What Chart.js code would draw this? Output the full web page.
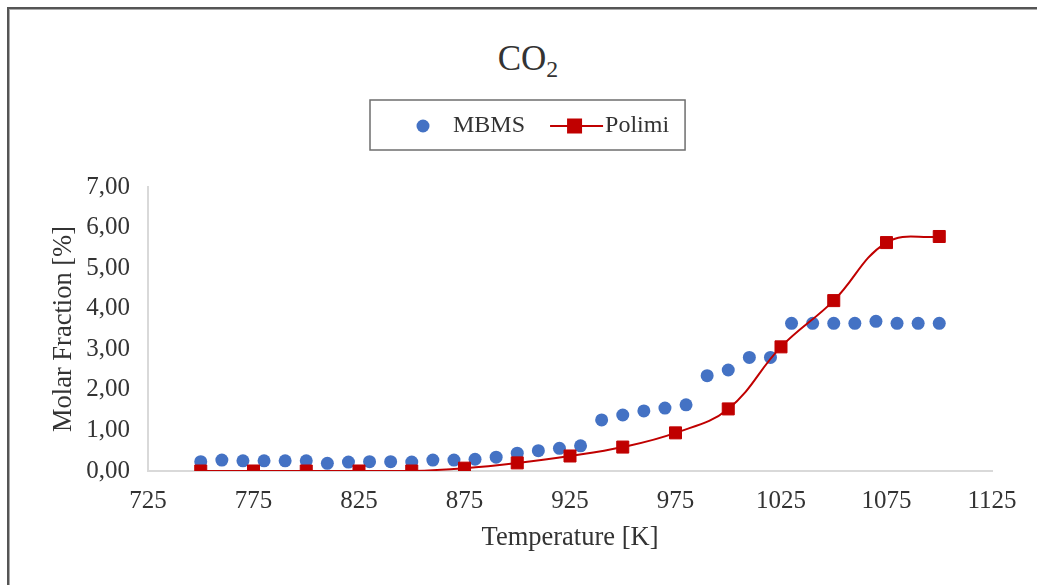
<!DOCTYPE html>
<html>
<head>
<meta charset="utf-8">
<script src="https://cdn.jsdelivr.net/npm/chart.js@4.4.1/dist/chart.umd.min.js"></script>
<style>
  html, body { margin: 0; padding: 0; background: #fff; }
  #wrap { position: relative; width: 1037px; height: 585px; overflow: hidden; background: #fff; }
  #frame { position: absolute; left: 7px; top: 7px; width: 1100px; height: 700px;
    border-top: 2px solid #555; border-left: 2px solid #555; box-shadow: inset 1px 1px 0 #aaa; }
  #title { position: absolute; left: 0; width: 1056px; top: 42px; text-align: center;
    font-family: 'Liberation Serif', 'Times New Roman', serif; font-size: 35px; line-height: 34px; color: #333; }
  #title span { font-size: 0.68em; position: relative; top: 7px; }
  canvas { position: absolute; left: 0; top: 0; }
</style>
</head>
<body>
<div id="wrap">
  <div id="frame"></div>
  <div id="title">CO<span>2</span></div>
  <canvas id="chart" width="1037" height="585"></canvas>
</div>
<script>
const mbmsTemps = [750, 760, 770, 780, 790, 800, 810, 820, 830, 840, 850, 860, 870, 880, 890, 900, 910, 920,
  930, 940, 950, 960, 970, 980, 990, 1000, 1010, 1020, 1030, 1040, 1050, 1060, 1070, 1080, 1090, 1100];
const mbmsValues = [0.23, 0.27, 0.25, 0.25, 0.25, 0.25, 0.19, 0.22, 0.23, 0.23, 0.22, 0.27, 0.27, 0.29, 0.34, 0.44, 0.50, 0.56,
  0.62, 1.26, 1.38, 1.48, 1.55, 1.63, 2.35, 2.49, 2.80, 2.80, 3.64, 3.64, 3.64, 3.64, 3.69, 3.64, 3.64, 3.64];
const polimiTemps = [750, 775, 800, 825, 850, 875, 900, 925, 950, 975, 1000, 1025, 1050, 1075, 1100];
const polimiValues = [0.00, 0.00, 0.00, 0.00, 0.00, 0.07, 0.20, 0.37, 0.59, 0.94, 1.53, 3.06, 4.20, 5.63, 5.78];
const xTicks = [725, 775, 825, 875, 925, 975, 1025, 1075, 1125];
const yTicks = [0, 1, 2, 3, 4, 5, 6, 7];

const blue = '#4472C4';
const red = '#C00000';
const textColor = '#333';
const axisColor = '#d9d9d9';
const serif = "'Liberation Serif', 'Times New Roman', serif";

Chart.defaults.font.family = serif;

// legend icons
function dotIcon() {
  const c = document.createElement('canvas');
  c.width = 58; c.height = 20;
  const g = c.getContext('2d');
  g.fillStyle = blue;
  g.beginPath();
  g.arc(40, 10, 6.5, 0, Math.PI * 2);
  g.fill();
  return c;
}
function lineIcon() {
  const c = document.createElement('canvas');
  c.width = 80; c.height = 20;
  const g = c.getContext('2d');
  g.strokeStyle = red;
  g.lineWidth = 2;
  g.beginPath();
  g.moveTo(26, 10);
  g.lineTo(79, 10);
  g.stroke();
  g.fillStyle = red;
  g.fillRect(43, 2.5, 15, 15);
  return c;
}
const icons = { MBMS: dotIcon(), Polimi: lineIcon() };

const legendShift = {
  id: 'legendShift',
  afterLayout(chart) {
    const lg = chart.legend;
    const pad = lg.options.labels.padding;
    const cur = (lg.left + pad + lg.right - lg.lineWidths[0]) / 2;
    const dx = 383 - cur;
    lg.left += dx;
    lg.right += dx;
  }
};

const legendBox = {
  id: 'legendBox',
  afterDraw(chart) {
    const hb = chart.legend.legendHitBoxes;
    if (!hb || hb.length < 2) return;
    const ctx = chart.ctx;
    const x = hb[0].left - 13;
    const y = hb[0].top - 14;
    const r = hb[1].left + hb[1].width + 16;
    ctx.save();
    ctx.strokeStyle = '#6e6e6e';
    ctx.lineWidth = 1.5;
    ctx.strokeRect(x, y, r - x, 50);
    ctx.restore();
  }
};

const ctx = document.getElementById('chart').getContext('2d');
new Chart(ctx, {
  type: 'scatter',
  data: {
    datasets: [
      {
        label: 'Polimi',
        data: polimiTemps.map((t, i) => ({ x: t, y: polimiValues[i] })),
        showLine: true,
        borderColor: red,
        backgroundColor: red,
        borderWidth: 2,
        tension: 0.4,
        pointStyle: 'rect',
        pointRadius: 8.5,
        pointBorderWidth: 1
      },
      {
        label: 'MBMS',
        data: mbmsTemps.map((t, i) => ({ x: t, y: mbmsValues[i] })),
        borderColor: blue,
        backgroundColor: blue,
        pointStyle: 'circle',
        pointRadius: 6.5,
        pointBorderWidth: 0
      }
    ]
  },
  options: {
    responsive: false,
    animation: false,
    layout: { padding: { top: 104, left: 0, right: 45, bottom: 0 } },
    plugins: {
      legend: {
        position: 'top',
        labels: {
          usePointStyle: true,
          pointStyleWidth: 58,
          padding: 10,
          font: { size: 24 },
          generateLabels: () => ['MBMS', 'Polimi'].map((name) => ({
            text: name,
            pointStyle: icons[name],
            fillStyle: name === 'MBMS' ? blue : red,
            strokeStyle: name === 'MBMS' ? blue : red,
            lineWidth: 0,
            fontColor: textColor,
            hidden: false,
            datasetIndex: name === 'MBMS' ? 1 : 0
          }))
        },
        onClick: () => {}
      },
      title: {
        display: true,
        text: '',
        weight: 500,
        font: { size: 2, lineHeight: 1 },
        padding: { top: 0, bottom: 37 }
      },
      tooltip: { enabled: false }
    },
    scales: {
      x: {
        type: 'linear',
        min: 725,
        max: 1125,
        afterBuildTicks: (s) => { s.ticks = xTicks.map((v) => ({ value: v })); },
        afterFit: (s) => { s.height = 114; },
        grid: { display: false, drawTicks: false },
        border: { color: axisColor, width: 2 },
        ticks: {
          padding: 15, autoSkip: false, maxRotation: 0, color: textColor, font: { size: 25 },
          callback: (v) => String(v)
        },
        title: {
          display: true, text: 'Temperature [K]', color: textColor,
          font: { size: 26.5 }, padding: { top: 0, bottom: 31 }
        }
      },
      y: {
        min: 0,
        max: 7,
        afterBuildTicks: (s) => { s.ticks = yTicks.map((v) => ({ value: v })); },
        afterFit: (s) => { s.width = 148; },
        grid: { display: false, drawTicks: false },
        border: { color: axisColor, width: 2 },
        ticks: {
          padding: 18, autoSkip: false, color: textColor, font: { size: 25 },
          callback: (v) => v.toFixed(2).replace('.', ',')
        },
        title: {
          display: true, text: 'Molar Fraction [%]', color: textColor,
          font: { size: 26.5 }, padding: { top: 48, bottom: 0 }
        }
      }
    }
  },
  plugins: [legendShift, legendBox]
});
</script>
</body>
</html>
